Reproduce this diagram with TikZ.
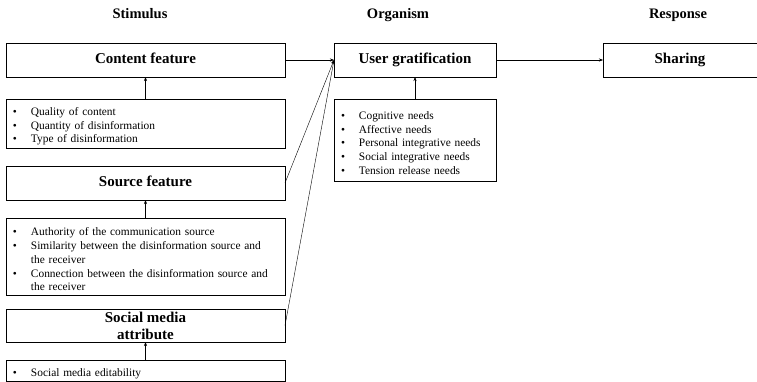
\documentclass[tikz,border=0pt]{standalone}
\usepackage{fontspec}
\setmainfont{Liberation Serif}
\usetikzlibrary{arrows.meta}
\newcommand{\bitem}[1]{\par\hangindent=19pt\hangafter=1\noindent\makebox[19pt][l]{\hspace{1pt}•}#1\par}
\begin{document}
\begin{tikzpicture}[x=1pt,y=1pt,
  hbox/.style={draw, line width=0.6pt, outer sep=0pt, inner sep=1pt, anchor=north west, minimum height=34pt, align=center, font=\fontsize{15}{17}\selectfont\bfseries},
  fix/.style={text height=10.5pt, text depth=3pt},
  lbox/.style={draw, line width=0.6pt, outer sep=0pt, inner xsep=6pt, inner ysep=2pt, anchor=north west, align=left, font=\fontsize{11.4}{13.8}\selectfont},
  ttl/.style={font=\fontsize{14.5}{16}\selectfont\bfseries, text height=10pt, text depth=3pt},
  arr/.style={-{Stealth[length=4pt,width=3pt]}, line width=0.4pt}]
\useasboundingbox (0,0) rectangle (757,-382);
\node[ttl] (tS) at (140,-15) {Stimulus};
\node[ttl] (tO) at (398,-15) {Organism};
\node[ttl] (tR) at (678,-15) {Response};
% stimulus column
\node[hbox, fix, minimum width=279pt] (cf) at (6,-43) {Content feature};
\node[lbox, minimum height=49pt, text width=267pt] (cfl) at (6,-99) {\bitem{Quality of content}\bitem{Quantity of disinformation}\bitem{Type of disinformation}};
\node[hbox, fix, minimum width=279pt] (sf) at (6,-166) {Source feature};
\node[lbox, minimum height=77pt, text width=267pt] (sfl) at (6,-218) {\rightskip=0pt plus 1fil \advance\rightskip by 8pt\bitem{Authority of the communication source}\bitem{Similarity between the disinformation source and the receiver}\bitem{Connection between the disinformation source and the receiver}};
\node[hbox, minimum width=279pt, minimum height=33pt, inner sep=0pt] (sm) at (6,-309) {Social media\\attribute};
\node[lbox, minimum height=21pt, text width=267pt] (sml) at (6,-360) {\bitem{Social media editability}};
% organism
\node[hbox, fix, minimum width=162pt] (ug) at (334,-43) {User gratification};
\node[lbox, minimum height=82pt, text width=150pt] (ugl) at (334,-99) {\bitem{Cognitive needs}\bitem{Affective needs}\bitem{Personal integrative needs}\bitem{Social integrative needs}\bitem{Tension release needs}};
% response
\node[hbox, fix, minimum width=154pt] (sh) at (603,-43) {Sharing};
% arrows
\draw[arr] (cfl.north) -- (cf.south);
\draw[arr] (sfl.north) -- (sf.south);
\draw[arr] (sml.north) -- (sm.south);
\draw[arr] (ugl.north) -- (ug.south);
\draw[arr] (cf.east) -- (ug.west);
\draw[arr] (sf.east) -- (ug.west);
\draw[arr] (sm.east) -- (ug.west);
\draw[arr] (ug.east) -- (sh.west);
\end{tikzpicture}
\end{document}
